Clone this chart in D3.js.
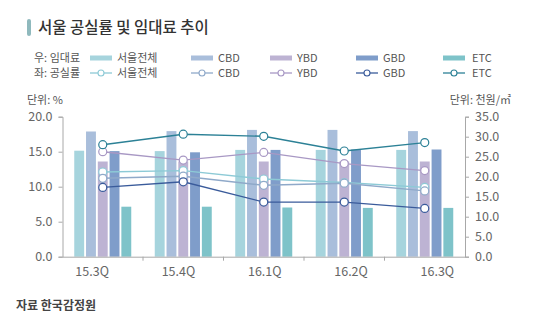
<!DOCTYPE html>
<html><head><meta charset="utf-8">
<script src="https://cdn.jsdelivr.net/npm/d3@7"></script>
<style>
html,body{margin:0;padding:0;background:#fff;}
text{font-family:"Noto Sans CJK KR","Noto Sans",sans-serif;}
</style></head>
<body><svg id="c" width="541" height="329"></svg>
<script>
const categories = ["15.3Q","15.4Q","16.1Q","16.2Q","16.3Q"];
const seriesNames = ["서울전체","CBD","YBD","GBD","ETC"];
// 임대료 (right axis, 천원/㎡) - bars
const rentSeoul = [26.5, 26.4, 26.7, 26.7, 26.7];
const rentCBD   = [31.3, 31.4, 31.7, 31.7, 31.4];
const rentYBD   = [23.8, 23.8, 23.8, 23.8, 23.8];
const rentGBD   = [26.4, 26.1, 26.7, 26.8, 26.8];
const rentETC   = [12.5, 12.5, 12.3, 12.2, 12.2];
// 공실률 (left axis, %) - lines
const vacSeoul = [12.1, 12.3, 11.1, 10.6, 9.9];
const vacCBD   = [11.2, 11.5, 10.2, 10.5, 9.4];
const vacYBD   = [15.0, 13.8, 14.9, 13.3, 12.3];
const vacGBD   = [9.9, 10.7, 7.8, 7.8, 6.9];
const vacETC   = [16.0, 17.5, 17.2, 15.1, 16.3];
const leftTicks = [0, 5, 10, 15, 20];
const rightTicks = [0, 5, 10, 15, 20, 25, 30, 35];

const rents = [rentSeoul, rentCBD, rentYBD, rentGBD, rentETC];
const vacs = [vacSeoul, vacCBD, vacYBD, vacGBD, vacETC];
const barColors = ["#a6d4dd","#a9bedb","#bdb3d3","#7f9dca","#7ec3c9"];
const lineColors = ["#8dcad6","#8fa9c9","#a898c4","#3a5b9b","#2c8196"];

const svg = d3.select("#c");
const X0 = 62.5, X1 = 465, YT = 116.7, YB = 256.7;
const x = d3.scaleBand().domain(categories).range([X0, X1]);
const xs = d3.scaleBand().domain(seriesNames).range([-28.5, 28.5]).paddingInner(0.16);
const xLab = d3.scaleBand().domain(categories).range([49, 480.5]);
const yL = d3.scaleLinear().domain([0, 20]).range([YB, YT]);
const yR = d3.scaleLinear().domain([0, 35]).range([YB, YT]);

// title
svg.append("rect").attr("x",27).attr("y",19).attr("width",4).attr("height",17).attr("rx",2).attr("fill","#8fb9bd");
svg.append("text").attr("x",38).attr("y",33).attr("font-size",15.5).attr("font-weight",500).attr("fill","#333").text("서울 공실률 및 임대료 추이");

// legend
const legX = [90, 191, 270, 356, 443];
const legT = [117, 218, 297, 383, 472];
const r1 = 61.5, r2 = 77;
svg.append("text").attr("x",34).attr("y",r1).attr("font-size",11).attr("fill","#555").text("우: 임대료");
svg.append("text").attr("x",34).attr("y",r2).attr("font-size",11).attr("fill","#555").text("좌: 공실률");
seriesNames.forEach((s,i)=>{
  svg.append("rect").attr("x",legX[i]).attr("y",55.5).attr("width",22).attr("height",5).attr("fill",barColors[i]);
  svg.append("text").attr("x",legT[i]).attr("y",r1).attr("font-size",11).attr("fill","#555").text(s);
  svg.append("line").attr("x1",legX[i]).attr("x2",legX[i]+22).attr("y1",73).attr("y2",73).attr("stroke",lineColors[i]).attr("stroke-width",1.3);
  svg.append("circle").attr("cx",legX[i]+11).attr("cy",73).attr("r",3).attr("fill","#fff").attr("stroke",lineColors[i]).attr("stroke-width",1.1);
  svg.append("text").attr("x",legT[i]).attr("y",r2).attr("font-size",11).attr("fill","#555").text(s);
});

// units
svg.append("text").attr("x",27).attr("y",104).attr("font-size",11).attr("fill","#555").text("단위: %");
svg.append("text").attr("x",511).attr("y",104).attr("text-anchor","end").attr("font-size",11).attr("fill","#555").text("단위: 천원/㎡");

// bars
rents.forEach((arr,i)=>{
  svg.append("g").selectAll("rect").data(arr).join("rect")
    .attr("x",(d,j)=>x(categories[j]) + x.bandwidth()/2 + xs(seriesNames[i]))
    .attr("width",xs.bandwidth())
    .attr("y",d=>yR(d))
    .attr("height",d=>YB - yR(d))
    .attr("fill",barColors[i]);
});

// axes
const axisColor = "#a8a8a8";
const gL = svg.append("g").attr("transform",`translate(${X0},0)`)
  .call(d3.axisLeft(yL).tickValues(leftTicks).tickFormat(d3.format(".1f")).tickSize(4).tickPadding(6));
const gR = svg.append("g").attr("transform",`translate(${X1},0)`)
  .call(d3.axisRight(yR).tickValues(rightTicks).tickFormat(d3.format(".1f")).tickSize(4).tickPadding(6));
const gB = svg.append("g").attr("transform",`translate(0,${YB})`)
  .call(d3.axisBottom(x).tickValues([]).tickSizeOuter(0));
// inner boundary ticks
gB.selectAll("line.bt").data(categories.slice(1)).join("line").attr("class","bt")
  .attr("x1",d=>x(d)).attr("x2",d=>x(d)).attr("y1",0).attr("y2",4).attr("stroke",axisColor);
const gLab = svg.append("g").attr("transform",`translate(0,${YB})`)
  .call(d3.axisBottom(xLab).tickSize(0).tickPadding(10));
gLab.select(".domain").remove();
[gL,gR,gB].forEach(g=>{ g.selectAll(".domain").attr("stroke",axisColor); g.selectAll(".tick line").attr("stroke",axisColor); });
[gL,gR,gLab].forEach(g=>g.selectAll("text").attr("font-size",12.5).attr("fill","#666").attr("font-family","'Noto Sans CJK KR',sans-serif"));

// lines
const cx = c => x(c) + x.bandwidth()/2;
vacs.forEach((arr,i)=>{
  const line = d3.line().x((d,j)=>cx(categories[j])).y(d=>yL(d));
  svg.append("path").datum(arr).attr("d",line).attr("fill","none").attr("stroke",lineColors[i]).attr("stroke-width",1.4);
});
vacs.forEach((arr,i)=>{
  svg.append("g").selectAll("circle").data(arr).join("circle")
    .attr("cx",(d,j)=>cx(categories[j])).attr("cy",d=>yL(d)).attr("r",4)
    .attr("fill","#fff").attr("stroke",lineColors[i]).attr("stroke-width",1.2);
});

// source
svg.append("text").attr("x",16).attr("y",310).attr("font-size",12).attr("font-weight",700).attr("fill","#444").text("자료 한국감정원");
</script></body></html>
